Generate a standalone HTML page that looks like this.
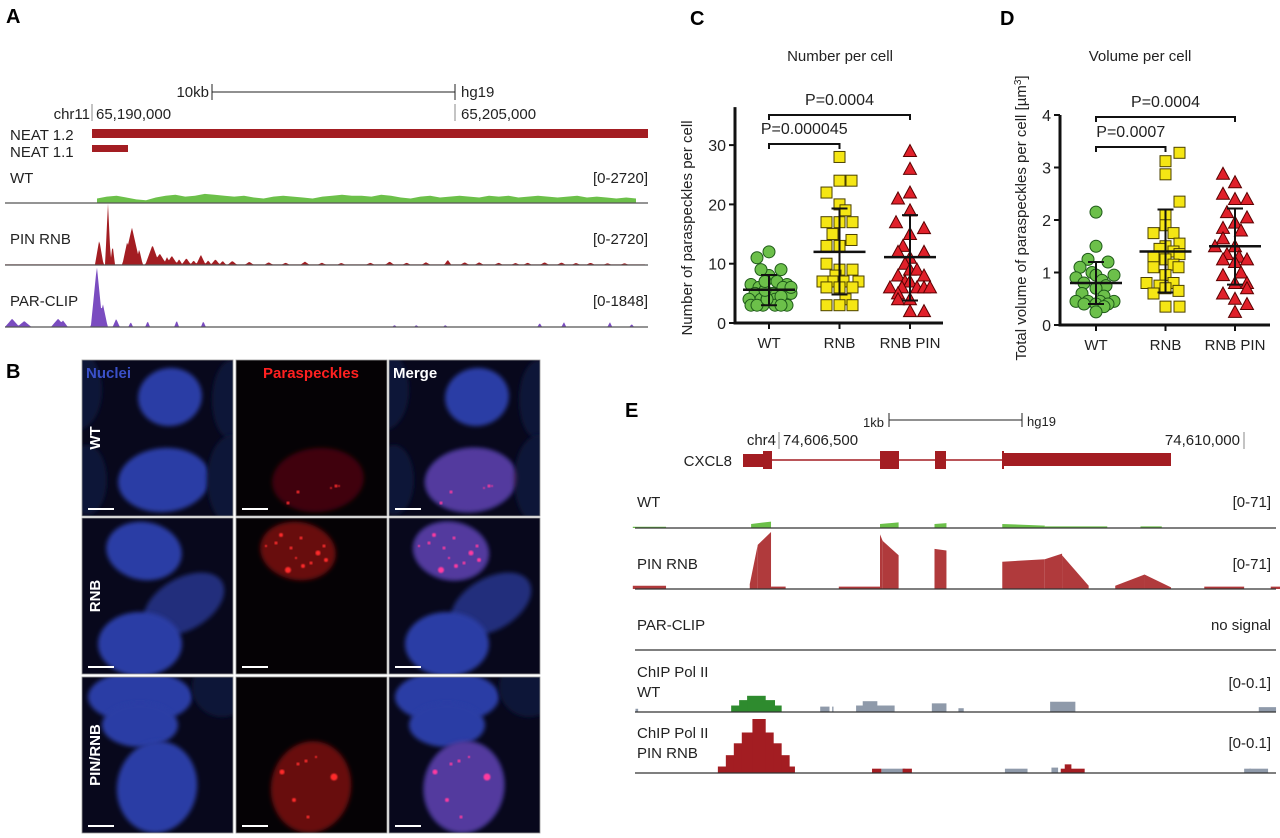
<!DOCTYPE html>
<html><head><meta charset="utf-8"><style>
html,body{margin:0;padding:0;background:#fff;}
svg{display:block;font-family:"Liberation Sans",sans-serif;}
</style></head><body>
<svg id="fig" width="1280" height="838" viewBox="0 0 1280 838" xmlns="http://www.w3.org/2000/svg">
<defs>
<filter id="blur2" x="-20%" y="-20%" width="140%" height="140%"><feGaussianBlur stdDeviation="2"/></filter>
<filter id="blur1"><feGaussianBlur stdDeviation="0.8"/></filter>
</defs>
<text x="6" y="23" font-size="20" font-weight="bold">A</text>
<text x="6" y="378" font-size="20" font-weight="bold">B</text>
<text x="690" y="25" font-size="20" font-weight="bold">C</text>
<text x="1000" y="25" font-size="20" font-weight="bold">D</text>
<text x="625" y="417" font-size="20" font-weight="bold">E</text>

<g font-size="15" fill="#222">
<text x="209" y="97" text-anchor="end">10kb</text>
<line x1="212" y1="92" x2="455" y2="92" stroke="#222"/>
<line x1="212" y1="84" x2="212" y2="100" stroke="#222"/>
<line x1="455" y1="84" x2="455" y2="100" stroke="#222"/>
<text x="461" y="97">hg19</text>
<text x="90" y="119" text-anchor="end">chr11</text>
<line x1="92" y1="104" x2="92" y2="121" stroke="#888"/>
<text x="96" y="119">65,190,000</text>
<line x1="455" y1="104" x2="455" y2="121" stroke="#888"/>
<text x="461" y="119">65,205,000</text>
<text x="10" y="140">NEAT 1.2</text>
<rect x="92" y="129" width="556" height="9" fill="#a31d22"/>
<text x="10" y="157">NEAT 1.1</text>
<rect x="92" y="145" width="36" height="7" fill="#a31d22"/>
<text x="10" y="183">WT</text>
<text x="648" y="183" text-anchor="end">[0-2720]</text>
<text x="10" y="244">PIN RNB</text>
<text x="648" y="244" text-anchor="end">[0-2720]</text>
<text x="10" y="306">PAR-CLIP</text>
<text x="648" y="306" text-anchor="end">[0-1848]</text>
</g>
<g id="trackA"></g>

<g id="panelB"></g>

<text x="840" y="61" font-size="15" text-anchor="middle" fill="#222">Number per cell</text>
<text x="1140" y="61" font-size="15" text-anchor="middle" fill="#222">Volume per cell</text>
<text transform="translate(692,228) rotate(-90)" font-size="15" text-anchor="middle" fill="#222">Number of paraspeckles per cell</text>
<text transform="translate(1026,218) rotate(-90)" font-size="15" text-anchor="middle" fill="#222">Total volume of paraspeckles per cell [µm<tspan dy="-5" font-size="10">3</tspan><tspan dy="5">]</tspan></text>
<g id="chartC"></g>
<g id="chartD"></g>

<g font-size="15" fill="#222">
<text x="884" y="427" text-anchor="end" font-size="13">1kb</text>
<line x1="889" y1="420" x2="1022" y2="420" stroke="#222"/>
<line x1="889" y1="413" x2="889" y2="427" stroke="#222"/>
<line x1="1022" y1="413" x2="1022" y2="427" stroke="#222"/>
<text x="1027" y="426" font-size="13">hg19</text>
<text x="776" y="445" text-anchor="end">chr4</text>
<line x1="779" y1="432" x2="779" y2="449" stroke="#888"/>
<text x="783" y="445">74,606,500</text>
<text x="1240" y="445" text-anchor="end">74,610,000</text>
<line x1="1244" y1="432" x2="1244" y2="449" stroke="#888"/>
<text x="732" y="466" text-anchor="end">CXCL8</text>
<text x="637" y="507">WT</text>
<text x="1271" y="507" text-anchor="end">[0-71]</text>
<text x="637" y="569">PIN RNB</text>
<text x="1271" y="569" text-anchor="end">[0-71]</text>
<text x="637" y="630">PAR-CLIP</text>
<text x="1271" y="630" text-anchor="end">no signal</text>
<text x="637" y="677">ChIP Pol II</text>
<text x="637" y="697">WT</text>
<text x="1271" y="688" text-anchor="end">[0-0.1]</text>
<text x="637" y="738">ChIP Pol II</text>
<text x="637" y="758">PIN RNB</text>
<text x="1271" y="748" text-anchor="end">[0-0.1]</text>
</g>
<g id="trackE"></g>
</svg>
<script>
const catLabels = ["WT","RNB","RNB PIN"];
const cTicks = [0,10,20,30];
const cWT = [11,12,8,9,9,6.5,6,7,6.5,5,5,6,4,4,4,4,5,3,3,3,3,3,4,5.5,7,4.5,3,6];
const cWTj = [-12,0,0,-8,12,-18,-10,8,18,-14,4,14,-20,-8,6,16,22,-18,-6,6,18,-12,-2,-4,-4,12,12,22];
const cRNB = [28,24,24,22,20,19,17,17,17,15,14,13,13,10,9,9,8,7,7,7,7,6,6,6,4,3,3,3];
const cRNBj = [0,0,12,-13,0,6,-13,0,13,-7,12,-13,0,-13,0,13,-4,-17,-6,4,19,-13,13,0,6,-13,0,13];
const cPIN = [29,26,22,21,19,17,16,15,13,12,12,11,10,9,9,8,8,7,7,6,6,6,6,6,5,4,4,2,2];
const cPINj = [0,0,0,-12,0,-14,14,0,-7,-12,14,0,-5,0,7,-12,14,-5,0,-20,-8,7,14,20,-12,-12,0,0,14];
const cMean = [5.6,12,11.1];
const cLow = [3,4.8,3.8];
const cHigh = [8.1,19.3,18.2];
const dTicks = [0,1,2,3,4];
const dWT = [2.15,1.5,1.25,1.2,1.1,1.0,0.95,0.95,0.9,0.85,0.8,0.75,0.7,0.6,0.55,0.45,0.45,0.45,0.45,0.4,0.4,0.4,0.35,0.25];
const dWTj = [0,0,-8,12,-16,-4,0,18,-20,6,-12,10,0,-14,8,-20,-8,4,18,-12,12,0,8,0];
const dRNB = [3.28,3.12,2.87,2.35,2.1,1.9,1.75,1.75,1.55,1.5,1.45,1.4,1.35,1.3,1.25,1.15,1.1,1.1,0.95,0.8,0.75,0.8,0.7,0.65,0.6,0.35,0.35];
const dRNBj = [14,0,0,14,0,0,8,-12,14,0,-6,8,14,-12,0,8,-12,13,0,-19,-6,8,0,13,-12,0,14];
const dPIN = [2.88,2.72,2.5,2.4,2.4,2.15,2.05,1.95,1.85,1.8,1.65,1.5,1.5,1.35,1.3,1.25,1.2,1.25,1.0,0.95,0.8,0.8,0.7,0.6,0.5,0.4,0.25];
const dPINj = [-12,0,-12,0,12,-8,12,0,-12,6,-12,-20,0,-8,4,-12,0,12,6,-12,0,12,12,-12,0,12,0];
const dMean = [0.8,1.4,1.5];
const dLow = [0.4,0.62,0.77];
const dHigh = [1.2,2.2,2.22];
const wtA = [5,7,8,6,4,3,6,8,9,7,8,10,9,8,7,8,6,5,7,8,7,6,5,7,8,9,8,8,7,9,8,6,5,7,8,6,7,8,7,6,8,7,8,6,7,8,7,6,7,8,6,7,6,5,6,5];
const pinPeakKb = [0.66,0.3,0.85,1.65,1.45,1.95,2.5,2.8,3.1,3.3,3.6,3.9,4.2,4.5,4.8,5.1,5.4,5.8,6.5,7.3,8,8.8,9.5,10.3,11.5,12.3,13,13.8,14.7,15.4,16,16.8,17.5,18,18.7,19.4,20,20.6,21.3,22];
const pinPeakVal = [2720,1100,900,1650,1000,700,880,500,350,400,250,300,200,450,200,250,180,180,140,120,100,150,100,90,100,150,100,120,230,120,120,100,90,100,120,110,90,100,80,80];
const pinPeakW = [0.12,0.18,0.1,0.35,0.2,0.15,0.3,0.3,0.15,0.25,0.15,0.2,0.15,0.2,0.15,0.2,0.15,0.2,0.2,0.2,0.2,0.2,0.2,0.2,0.2,0.2,0.2,0.2,0.15,0.2,0.2,0.2,0.2,0.2,0.2,0.2,0.2,0.2,0.2,0.2];
const parPeakKb = [0.2,0.45,-3.3,-2.8,-1.4,-1.2,1.0,1.6,2.3,3.5,4.6,12.5,13.4,14.6,18.5,19.5,21.4,22.3];
const parPeakVal = [1848,700,250,180,250,200,250,150,180,200,180,60,60,60,120,150,150,90];
const parPeakW = [0.25,0.2,0.3,0.3,0.3,0.2,0.15,0.1,0.1,0.1,0.1,0.1,0.1,0.1,0.1,0.1,0.1,0.1];
const pinE = [[-1.1,-0.85,4,4],[-0.22,-0.16,6,55],[-0.16,-0.06,55,71],[0.76,0.78,68,60],[0.78,0.9,60,42],[1.17,1.26,50,48],[1.68,2.0,34,37],[2.0,2.13,37,44],[2.13,2.33,42,4],[2.53,2.75,4,18],[2.75,2.95,18,2],[-0.06,0.05,3,3],[0.45,0.76,3,3],[3.2,3.5,3,3],[3.7,4.0,3,3]];
const wtE = [[-1.1,-0.85,1.5,1.5],[-0.21,-0.06,5,8],[0.76,0.9,5,7],[1.17,1.26,5,6],[1.68,2.0,5,3],[2.0,2.47,2,2],[2.72,2.88,2,2]];
const chipWTgreen = [[-0.36,0.02,0.012],[-0.3,-0.03,0.022],[-0.24,-0.1,0.03]];
const chipWTgrey = [[-1.08,-1.06,0.006],[0.31,0.38,0.01],[0.4,0.41,0.01],[0.58,0.87,0.012],[0.63,0.74,0.02],[1.15,1.26,0.016],[1.35,1.39,0.007],[2.04,2.23,0.019],[3.61,3.74,0.009]];
const chipPINred = [[-0.46,0.12,0.012],[-0.4,0.08,0.033],[-0.34,0.02,0.055],[-0.28,-0.04,0.075],[-0.2,-0.1,0.1],[0.70,0.77,0.008],[0.93,1.0,0.008],[2.12,2.3,0.008],[2.15,2.2,0.016]];
const chipPINgrey = [[0.77,0.95,0.008],[1.7,1.87,0.008],[2.05,2.1,0.01],[3.5,3.55,0.008],[3.54,3.68,0.008]];

const NS="http://www.w3.org/2000/svg";
function mk(tag, attrs, parent){const e=document.createElementNS(NS,tag);for(const k in attrs)e.setAttribute(k,attrs[k]);parent.appendChild(e);return e;}

(function(){
  const g=document.getElementById('trackA');
  const baseWT=203, hWT=62/2720;
  let pts=[[97,baseWT]];
  wtA.forEach((v,i)=>{pts.push([97+i*9.8, baseWT - v*40*hWT]);});
  pts.push([97+(wtA.length-1)*9.8,baseWT]);
  let p=mk('polygon',{points:pts.map(q=>q.join(',')).join(' '),fill:'#6cc04a'},g);
  
  
  let l=mk('line',{x1:5,y1:baseWT,x2:648,y2:baseWT,stroke:'#555','stroke-width':1.2},g);
  
  
  function peakTrack(base,height,maxv,kbs,vals,ws,color,x0,x1,floor){
    const pts=[[x0,base]];
    for(let x=x0;x<=x1;x+=1){
      const kb=(x-92)/24.2;let v=floor;
      for(let i=0;i<kbs.length;i++){const d=Math.abs(kb-kbs[i])/ws[i];if(d<1)v=Math.max(v,vals[i]*(1-d));}
      pts.push([x,base-v/maxv*height]);
    }
    pts.push([x1,base]);
    return mk('polygon',{points:pts.map(q=>q.join(',')).join(' '),fill:color},g);
  }
  let e1=peakTrack(265,62,2720,pinPeakKb,pinPeakVal,pinPeakW,'#a31d22',5,645,25);
  
  
  l=mk('line',{x1:5,y1:265,x2:648,y2:265,stroke:'#555','stroke-width':1.2},g);
  
  
  let e2=peakTrack(327,61,1848,parPeakKb,parPeakVal,parPeakW,'#7a4cc0',5,645,0);
  
  
  l=mk('line',{x1:5,y1:327,x2:648,y2:327,stroke:'#555','stroke-width':1.2},g);
  
  
})();

(function(){
  const g=document.getElementById('panelB');
  const colX=[82,236,389], rowY=[360,518,677], W=151, H=156;
  const cells=[
    [[88,37,32,29,-10,1],[82,120,46,32,-5,1],[-5,30,25,40,0,0.35],[150,40,20,40,0,0.35],[150,120,25,45,0,0.3],[5,120,20,35,0,0.3]],
    [[62,33,38,29,10,1],[102,86,44,26,-30,0.75],[58,126,42,32,0,1]],
    [[58,20,52,26,0,1],[58,48,38,22,0,1],[75,110,40,46,10,1],[140,10,30,30,0,0.3]]
  ];
  const redCell=[1,0,2];
  const dots=[
    [[62,132,1.5],[52,143,1.5],[100,126,1.5],[103,126,1],[95,128,1]],
    [[45,17,2],[65,20,1.5],[55,30,1.5],[82,35,2.5],[90,42,2],[75,45,1.5],[52,52,3],[67,48,2],[40,25,1.5],[60,40,1.2],[88,28,1.5],[30,28,1.2]],
    [[62,87,1.5],[70,84,1.5],[80,80,1.2],[46,95,2.5],[98,100,3.5],[58,123,2],[72,140,1.5]]
  ];
  for(let r=0;r<3;r++)for(let c=0;c<3;c++){
    const x0=colX[c],y0=rowY[r];
    const cp=mk('clipPath',{id:'clip'+r+c},g);
    mk('rect',{x:x0,y:y0,width:W,height:H},cp);
    let bg=mk('rect',{x:x0,y:y0,width:W,height:H,fill:c===1?'#050205':'#08081c'},g);
    
    
    const cg=mk('g',{'clip-path':'url(#clip'+r+c+')'},g);
    if(c!==1){
      cells[r].forEach(ce=>{
        const b=ce[5];
        mk('ellipse',{cx:x0+ce[0],cy:y0+ce[1],rx:ce[2],ry:ce[3],transform:`rotate(${ce[4]} ${x0+ce[0]} ${y0+ce[1]})`,fill:b>0.5?`rgb(${Math.round(42*b)},${Math.round(62*b)},${Math.round(165*b)})`:'#0f1538',filter:'url(#blur2)'},cg);
      });
    }
    if(c!==0){
      const ce=cells[r][redCell[r]];
      const alpha=c===1?(r===0?0.5:0.85):0.35;
      mk('ellipse',{cx:x0+ce[0],cy:y0+ce[1],rx:ce[2],ry:ce[3],transform:`rotate(${ce[4]} ${x0+ce[0]} ${y0+ce[1]})`,fill:c===1?'#7a0c10':'#a03090','fill-opacity':alpha,filter:'url(#blur2)'},cg);
      dots[r].forEach(d=>{mk('circle',{cx:x0+d[0],cy:y0+d[1],r:d[2],fill:c===1?'#ff2a2a':'#ff3aa0',filter:'url(#blur1)'},cg);});
    }
    const sb=mk('line',{x1:x0+6,y1:y0+H-7,x2:x0+32,y2:y0+H-7,stroke:'#fff','stroke-width':2},g);
    
    
    mk('rect',{x:x0,y:y0,width:W,height:H,fill:'none',stroke:'#999','stroke-width':0.8},g);
  }
  const hdr=[['Nuclei','#3a50c8',86,'start'],['Paraspeckles','#ff2020',311,'middle'],['Merge','#ffffff',393,'start']];
  hdr.forEach(h=>{const t=mk('text',{x:h[2],y:378,fill:h[1],'font-size':15,'font-weight':'bold','text-anchor':h[3]},g);t.textContent=h[0];
    
    });
  const rl=[['WT',438],['RNB',596],['PIN/RNB',755]];
  rl.forEach(h=>{const t=mk('text',{transform:`translate(100,${h[1]}) rotate(-90)`,fill:'#fff','font-size':15,'font-weight':'bold','text-anchor':'middle'},g);t.textContent=h[0];
    
    });
})();

function scatter(gid, ax0, axRight, y0, pxPerUnit, ticks, cat0, catStep, groups, jit, means, lows, highs, brackets, prefix){
  const g=document.getElementById(gid);
  const y=v=>y0 - v*pxPerUnit;
  const x=i=>cat0 + i*catStep;
  const top=y(ticks[ticks.length-1]) - (gid==='chartC'?38:0);
  let a=mk('line',{x1:ax0,y1:top,x2:ax0,y2:y0+1.5,stroke:'#111','stroke-width':3},g);
  
  
  a=mk('line',{x1:ax0-1.5,y1:y0,x2:axRight,y2:y0,stroke:'#111','stroke-width':3},g);
  
  
  ticks.forEach(t=>{
    const tk=mk('line',{x1:ax0-6,y1:y(t),x2:ax0,y2:y(t),stroke:'#111','stroke-width':2},g);
    
    
    const tl=mk('text',{x:ax0-9,y:y(t)+6,'font-size':16,'text-anchor':'end',fill:'#222'},g);
    tl.textContent=t;
    
    
  });
  catLabels.forEach((c,i)=>{
    const tk=mk('line',{x1:x(i),y1:y0,x2:x(i),y2:y0+6,stroke:'#111','stroke-width':2},g);
    
    
    const tl=mk('text',{x:x(i),y:y0+25,'font-size':15,'text-anchor':'middle',fill:'#222'},g);
    tl.textContent=c;
    
    
  });
  groups.forEach((vals,gi)=>{
    vals.forEach((v,k)=>{
      const cx=x(gi)+jit[gi][k], cy=y(v);
      let m;
      if(gi===0){m=mk('circle',{cx:cx,cy:cy,r:6,fill:'#6cc04a',stroke:'#1f5a1a','stroke-width':1},g);}
      else if(gi===1){m=mk('rect',{x:cx-5.5,y:cy-5.5,width:11,height:11,fill:'#f5e614',stroke:'#4a4000','stroke-width':1},g);}
      else {m=mk('polygon',{points:`${cx},${cy-6.5} ${cx-6.5},${cy+5.5} ${cx+6.5},${cy+5.5}`,fill:'#e0202a',stroke:'#5a0000','stroke-width':1},g);}
      
      
    });
  });
  means.forEach((mv,i)=>{
    const ml=mk('line',{x1:x(i)-26,y1:y(mv),x2:x(i)+26,y2:y(mv),stroke:'#111','stroke-width':2.5},g);
    
    
    const el=mk('path',{d:`M${x(i)},${y(lows[i])}V${y(highs[i])}M${x(i)-8},${y(lows[i])}H${x(i)+8}M${x(i)-8},${y(highs[i])}H${x(i)+8}`,stroke:'#111','stroke-width':2,fill:'none'},g);
    
    
  });
  brackets.forEach(b=>{
    const br=mk('path',{d:`M${x(b.a)},${b.y+5}V${b.y}H${x(b.b)}V${b.y+5}`,stroke:'#111','stroke-width':2,fill:'none'},g);
    
    
    const t=mk('text',{x:(x(b.a)+x(b.b))/2,y:b.y-10,'font-size':16,'text-anchor':'middle',fill:'#222'},g);
    t.textContent=b.t;
    
    
  });
}
scatter('chartC',735,943,323,5.93,cTicks,769,70.5,[cWT,cRNB,cPIN],[cWTj,cRNBj,cPINj],cMean,cLow,cHigh,
  [{a:0,b:2,y:115,t:'P=0.0004'},{a:0,b:1,y:144,t:'P=0.000045'}],'chart-c');
scatter('chartD',1060,1270,325,52.5,dTicks,1096,69.5,[dWT,dRNB,dPIN],[dWTj,dRNBj,dPINj],dMean,dLow,dHigh,
  [{a:0,b:2,y:117,t:'P=0.0004'},{a:0,b:1,y:147,t:'P=0.0007'}],'chart-d');

(function(){
  const g=document.getElementById('trackE');
  const xE=kb=>779+kb*132.9;
  let gl=mk('line',{x1:744,y1:460,x2:1003,y2:460,stroke:'#a31d22','stroke-width':1.5},g);
  
  
  const exons=[[743,763,454,467],[763,772,451,469],[880,899,451,469],[935,946,451,469],[1002,1004,451,469],[1004,1171,453,466]];
  exons.forEach((e,i)=>{const r=mk('rect',{x:e[0],y:e[2],width:e[1]-e[0],height:e[3]-e[2],fill:'#a31d22'},g);
    
    });
  function segs(list,base,h,maxv,color,name){
    list.forEach(s=>{
      const x0=xE(s[0]),x1=xE(s[1]);
      const p=mk('polygon',{points:`${x0},${base} ${x0},${base-s[2]/maxv*h} ${x1},${base-s[3]/maxv*h} ${x1},${base}`,fill:color},g);
      
      
    });
  }
  function blocks(list,base,h,maxv,color,name){
    list.forEach(s=>{
      const x0=xE(s[0]),x1=xE(s[1]);
      const r=mk('rect',{x:x0,y:base-s[2]/maxv*h,width:x1-x0,height:s[2]/maxv*h,fill:color},g);
      
      
    });
  }
  segs(wtE,528,57,71,'#6cc04a','wt-signal-e');
  segs(pinE,589,57,71,'#b03a3c','pin-rnb-signal-e');
  blocks(chipWTgrey,712,54,0.1,'#8f9aaa','chip-wt-other');
  blocks(chipWTgreen,712,54,0.1,'#2e8b2e','chip-wt-signal');
  blocks(chipPINgrey,773,54,0.1,'#8f9aaa','chip-pin-other');
  blocks(chipPINred,773,54,0.1,'#a31d22','chip-pin-signal');
  [[528,'wt'],[589,'pin'],[650,'parclip'],[712,'chip-wt'],[773,'chip-pin']].forEach(b=>{
    const l=mk('line',{x1:635,y1:b[0],x2:1276,y2:b[0],stroke:'#333','stroke-width':1.2},g);
    
    
  });
})();
</script>
</body></html>
